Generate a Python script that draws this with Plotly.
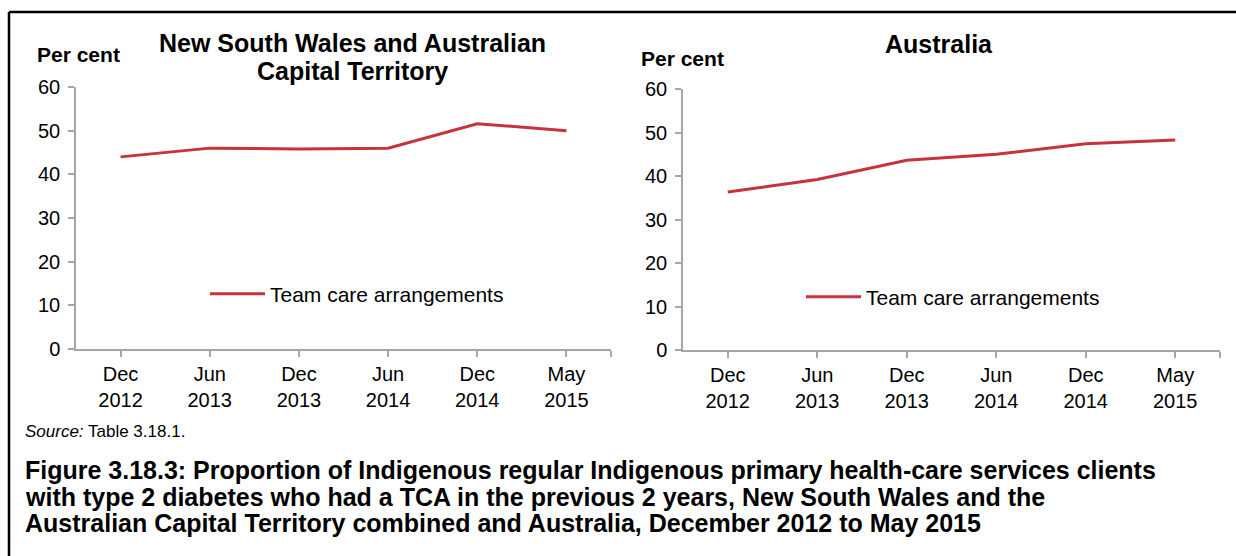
import plotly.graph_objects as go

# Survey periods and the share of clients with a team care arrangement (per cent)
periods = ["Dec<br>2012", "Jun<br>2013", "Dec<br>2013", "Jun<br>2014", "Dec<br>2014", "May<br>2015"]
nsw_act_tca = [44.0, 46.0, 45.8, 46.0, 51.6, 50.0]
australia_tca = [36.3, 39.2, 43.6, 45.0, 47.4, 48.3]
series_name = "Team care arrangements"

W, H = 1236, 556
RED = "#C8323D"
GREY = "#A6A6A6"
FONT = "Liberation Sans, Arial, sans-serif"

def px_x(v):
    return v / W

def px_y(v):
    return 1 - v / H

idx = list(range(len(periods)))

fig = go.Figure()
fig.add_trace(go.Scatter(x=idx, y=nsw_act_tca, mode="lines", name=series_name,
                         line=dict(color=RED, width=3), xaxis="x", yaxis="y",
                         legend="legend", hoverinfo="skip"))
fig.add_trace(go.Scatter(x=idx, y=australia_tca, mode="lines", name=series_name,
                         line=dict(color=RED, width=3), xaxis="x2", yaxis="y2",
                         legend="legend2", hoverinfo="skip"))

def xaxis(domain, anchor):
    return dict(domain=domain, anchor=anchor, range=[-0.5, len(periods) - 0.5],
                tickmode="array", tickvals=idx, ticktext=periods,
                ticks="outside", ticklen=6, tickcolor=GREY, tickwidth=1.5,
                ticklabelstandoff=0, automargin=False,
                showline=True, linecolor=GREY, linewidth=1.5,
                showgrid=False, zeroline=False, fixedrange=True,
                minor=dict(tickmode="array", tickvals=[len(periods) - 0.5], ticks="outside",
                           ticklen=6, tickcolor=GREY, tickwidth=1.5, showgrid=False),
                tickfont=dict(family=FONT, size=20, color="#000000"))

def yaxis(domain, anchor):
    return dict(domain=domain, anchor=anchor, range=[0, 60], tickvals=[0, 10, 20, 30, 40, 50, 60],
                ticks="outside", ticklen=6, tickcolor=GREY, tickwidth=1.5,
                ticklabelstandoff=4, automargin=False,
                showline=True, linecolor=GREY, linewidth=1.5,
                showgrid=False, zeroline=False, fixedrange=True,
                tickfont=dict(family=FONT, size=20, color="#000000"))

legend_common = dict(bgcolor="rgba(0,0,0,0)", borderwidth=0, itemwidth=55,
                     font=dict(family=FONT, size=21, color="#000000"),
                     xanchor="left", yanchor="middle")

annotations = [
    dict(text="<b>New South Wales and Australian</b>", x=px_x(352), y=px_y(43)),
    dict(text="<b>Capital Territory</b>", x=px_x(352), y=px_y(71)),
    dict(text="<b>Australia</b>", x=px_x(939), y=px_y(44)),
]
for a in annotations:
    a.update(xref="paper", yref="paper", showarrow=False, xanchor="center", yanchor="middle",
             font=dict(family=FONT, size=25, color="#000000"))

annotations += [
    dict(text="<b>Per cent</b>", x=px_x(35), y=px_y(54), xanchor="left"),
    dict(text="<b>Per cent</b>", x=px_x(639), y=px_y(58), xanchor="left"),
]
for a in annotations[3:]:
    a.update(xref="paper", yref="paper", showarrow=False, yanchor="middle",
             font=dict(family=FONT, size=21, color="#000000"))

annotations.append(dict(text="<i>Source:</i> Table 3.18.1.", x=px_x(23), y=px_y(431),
                        xref="paper", yref="paper", showarrow=False, xanchor="left", yanchor="middle",
                        font=dict(family=FONT, size=17, color="#000000")))

caption_lines = [
    "Figure 3.18.3: Proportion of Indigenous regular Indigenous primary health-care services clients",
    "with type 2 diabetes who had a TCA in the previous 2 years, New South Wales and the",
    "Australian Capital Territory combined and Australia, December 2012 to May 2015",
]
for line, ypix in zip(caption_lines, [470, 496.5, 523]):
    annotations.append(dict(text="<b>" + line + "</b>", x=px_x(23), y=px_y(ypix),
                            xref="paper", yref="paper", showarrow=False,
                            xanchor="left", yanchor="middle",
                            font=dict(family=FONT, size=25, color="#000000")))

# Frame lines along the top and left edges
shapes = [
    dict(type="line", xref="paper", yref="paper", x0=px_x(9), x1=1, y0=px_y(12), y1=px_y(12),
         line=dict(color="#000000", width=2.5)),
    dict(type="line", xref="paper", yref="paper", x0=px_x(9), x1=px_x(9), y0=px_y(12), y1=0,
         line=dict(color="#000000", width=2.5)),
]

fig.update_layout(
    width=W, height=H, margin=dict(l=0, r=0, t=0, b=0, pad=0, autoexpand=False),
    paper_bgcolor="#FFFFFF", plot_bgcolor="#FFFFFF",
    xaxis=xaxis([px_x(76), px_x(611)], "y"),
    yaxis=yaxis([px_y(349), px_y(87)], "x"),
    xaxis2=xaxis([px_x(683), px_x(1220)], "y2"),
    yaxis2=yaxis([px_y(350), px_y(89)], "x2"),
    legend=dict(x=px_x(205), y=px_y(294), **legend_common),
    legend2=dict(x=px_x(801), y=px_y(297), **legend_common),
    annotations=annotations,
    shapes=shapes,
    showlegend=True,
)

fig.write_html("out.html", config={"displayModeBar": False})
